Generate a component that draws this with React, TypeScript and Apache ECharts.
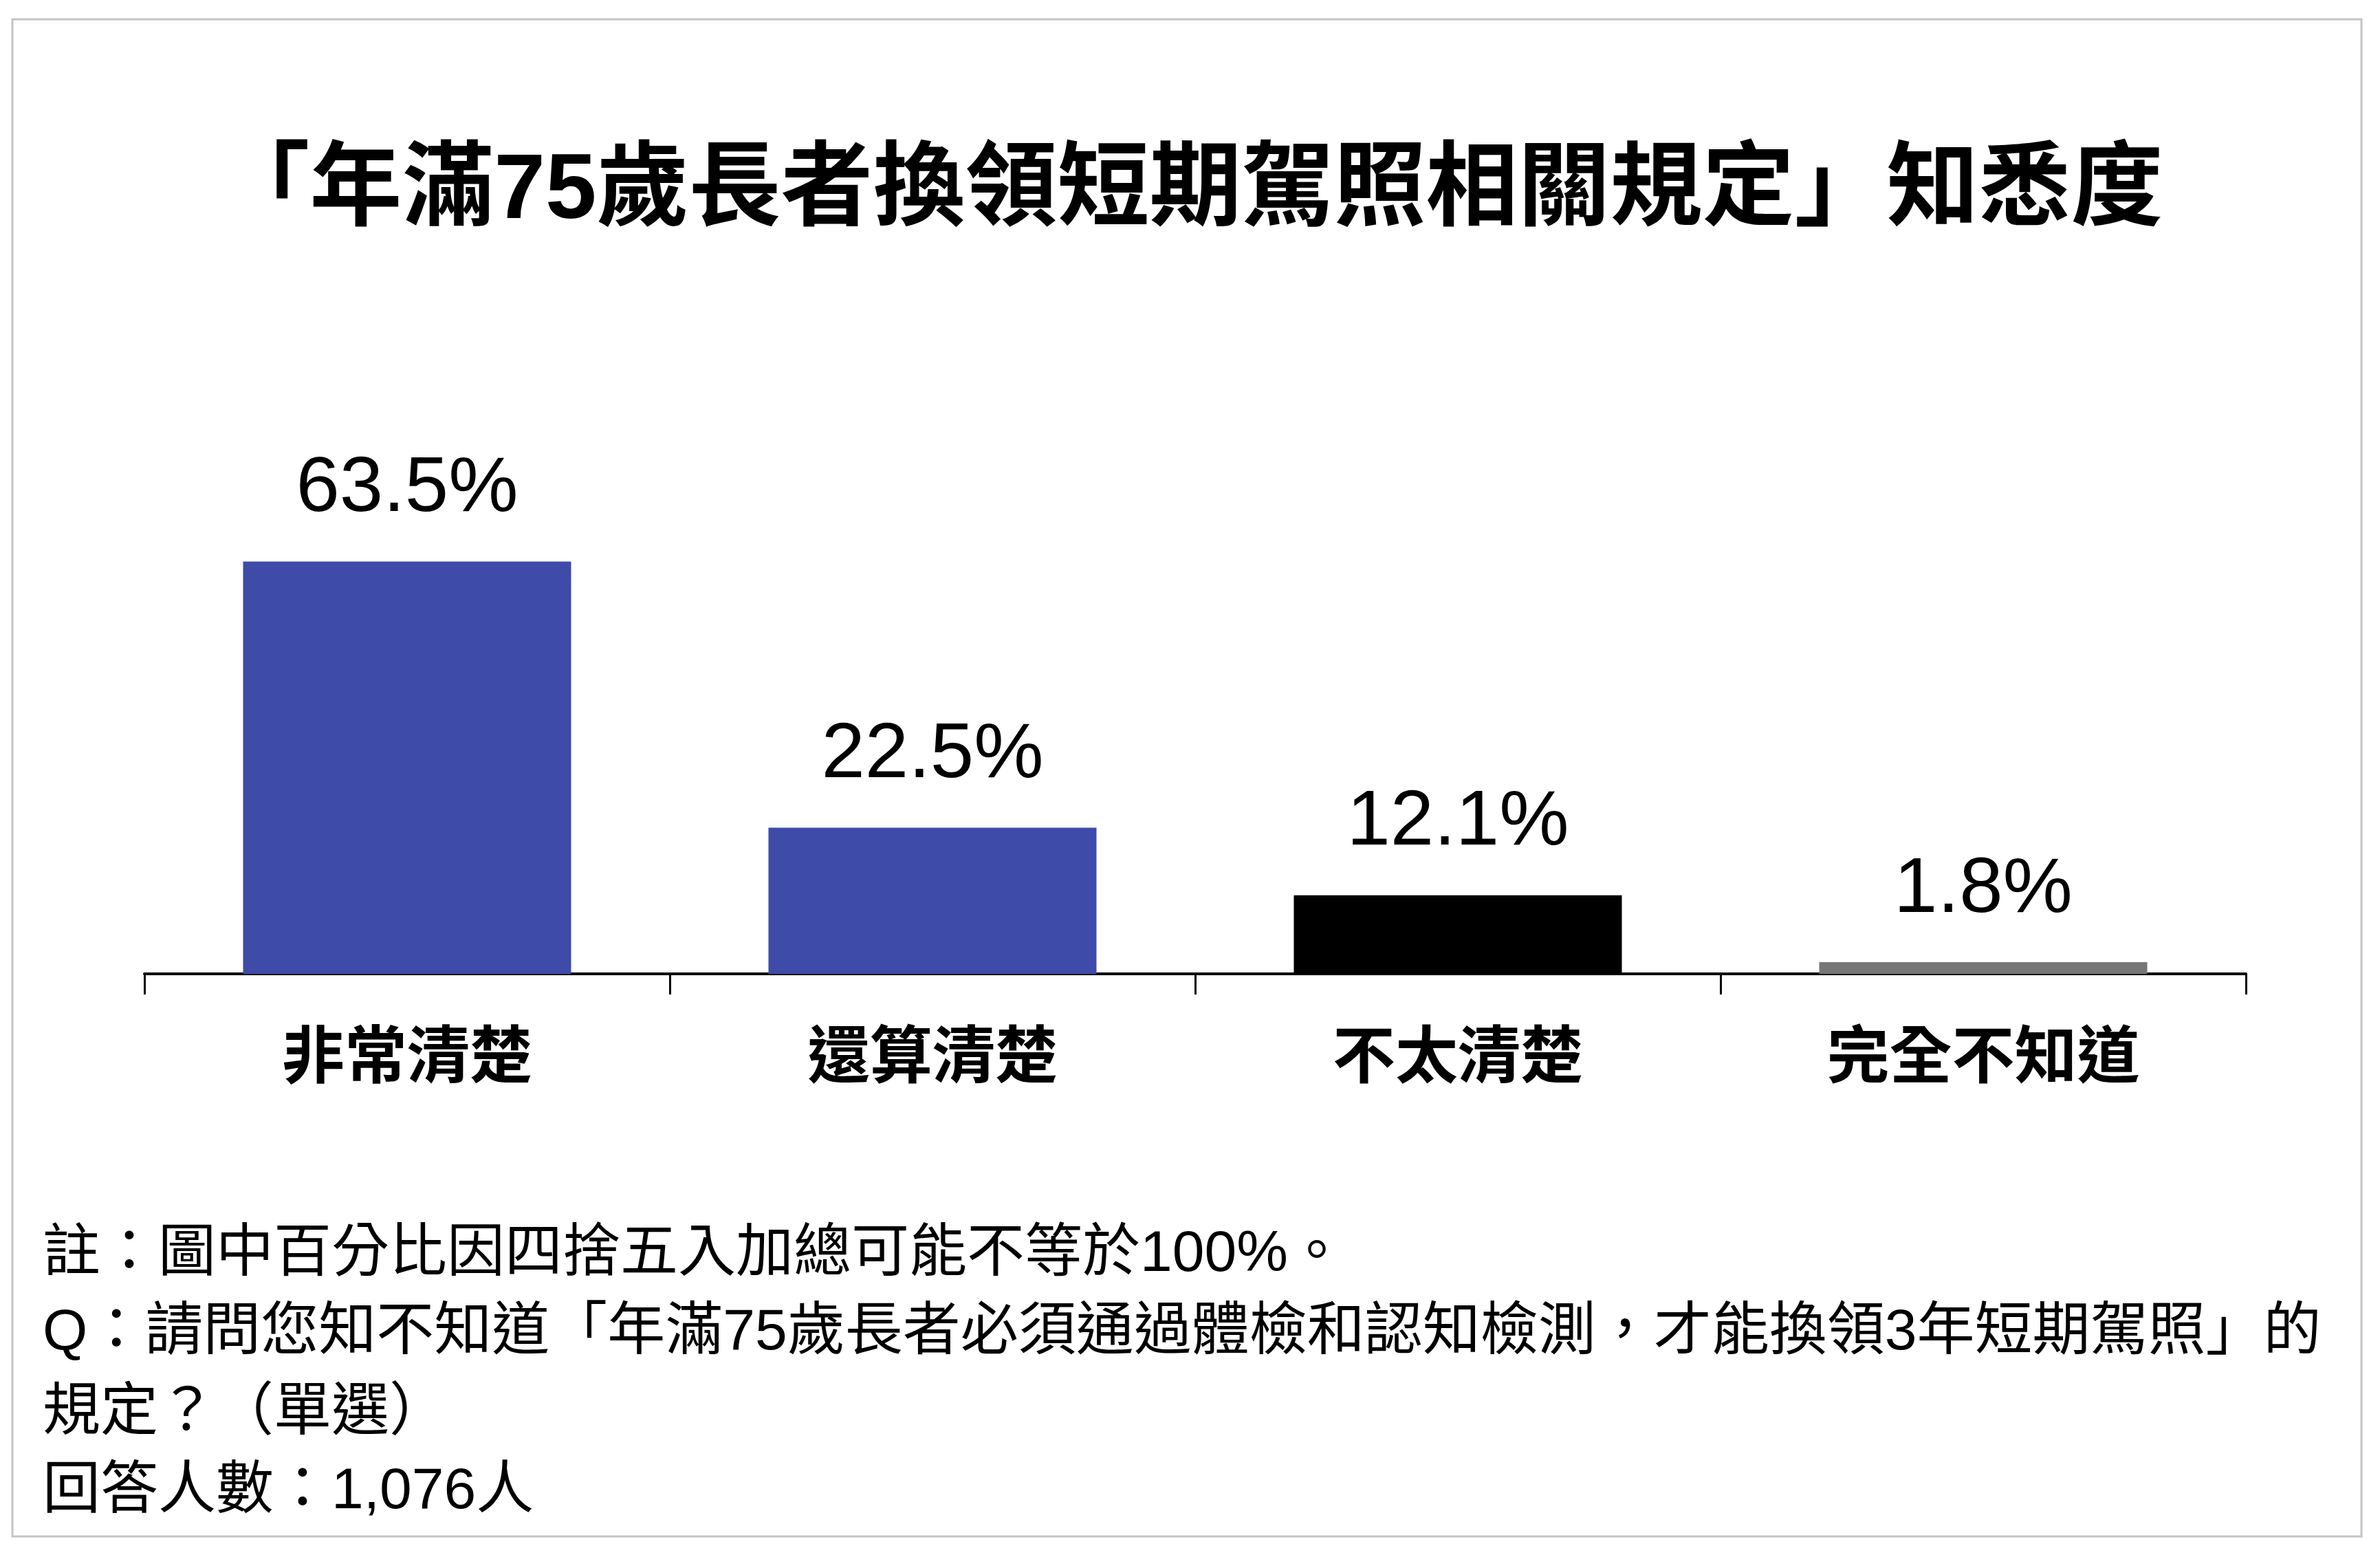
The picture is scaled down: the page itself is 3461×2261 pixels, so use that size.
import React, { useEffect, useRef } from "react";
import * as echarts from "echarts";

const titleText = "「年滿75歲長者換領短期駕照相關規定」知悉度";
const categories = ["非常清楚", "還算清楚", "不太清楚", "完全不知道"];
const values = [63.5, 22.5, 12.1, 1.8];
const barColors = ["#3F4BA8", "#3F4BA8", "#000000", "#777777"];
const noteLines = [
  "註：圖中百分比因四捨五入加總可能不等於100%。",
  "Q：請問您知不知道「年滿75歲長者必須通過體檢和認知檢測，才能換領3年短期駕照」的",
  "規定？（單選）",
  "回答人數：1,076人",
];

const W = 3461;
const H = 2261;
const FONT = "'Liberation Sans', 'Noto Sans CJK TC', sans-serif";

export default function App() {
  const ref = useRef<HTMLDivElement>(null);
  useEffect(() => {
    if (!ref.current) return;
    const chart = echarts.init(ref.current, null, { renderer: "svg", width: W, height: H });
    const lineYs = [1819, 1933, 2050, 2164];
    const option: any = {
      animation: false,
      backgroundColor: "#ffffff",
      grid: { left: 210, right: 195, top: 755, bottom: 845, containLabel: false },
      xAxis: {
        type: "category",
        data: categories,
        boundaryGap: true,
        axisLine: { show: true, lineStyle: { color: "#000", width: 4 } },
        axisTick: { show: true, length: 30, lineStyle: { color: "#000", width: 3 } },
        axisLabel: {
          margin: 74,
          fontSize: 91,
          fontWeight: "bold",
          color: "#000",
          fontFamily: FONT,
          interval: 0,
        },
      },
      yAxis: { type: "value", min: 0, max: 70, show: false, splitLine: { show: false } },
      series: [
        {
          type: "bar",
          barWidth: 477,
          data: values.map((v, i) => ({ value: v, itemStyle: { color: barColors[i] } })),
          label: {
            show: true,
            position: "top",
            distance: 56,
            formatter: "{c}%",
            fontSize: 114,
            color: "#000",
            fontFamily: "'Liberation Sans', Arial, sans-serif",
          },
        },
      ],
      graphic: [
        {
          type: "rect",
          shape: { x: 18, y: 28, width: 3416, height: 2206 },
          style: { fill: "none", stroke: "#c4c4c4", lineWidth: 3 },
          silent: true,
        },
        {
          type: "text",
          x: 1731,
          y: 270,
          style: {
            text: titleText,
            fontSize: 134,
            fontWeight: "bold",
            fill: "#000",
            fontFamily: FONT,
            textAlign: "center",
            textVerticalAlign: "middle",
          },
        },
        ...noteLines.map((t, i) => ({
          type: "text",
          x: 62,
          y: lineYs[i],
          style: {
            text: t,
            fontSize: 84,
            fill: "#000",
            fontFamily: FONT,
            textAlign: "left",
            textVerticalAlign: "middle",
          },
        })),
      ],
    };
    chart.setOption(option);
    return () => chart.dispose();
  }, []);
  return (
    <div
      ref={ref}
      style={{ position: "fixed", left: 0, top: 0, width: W, height: H, background: "#fff" }}
    />
  );
}
